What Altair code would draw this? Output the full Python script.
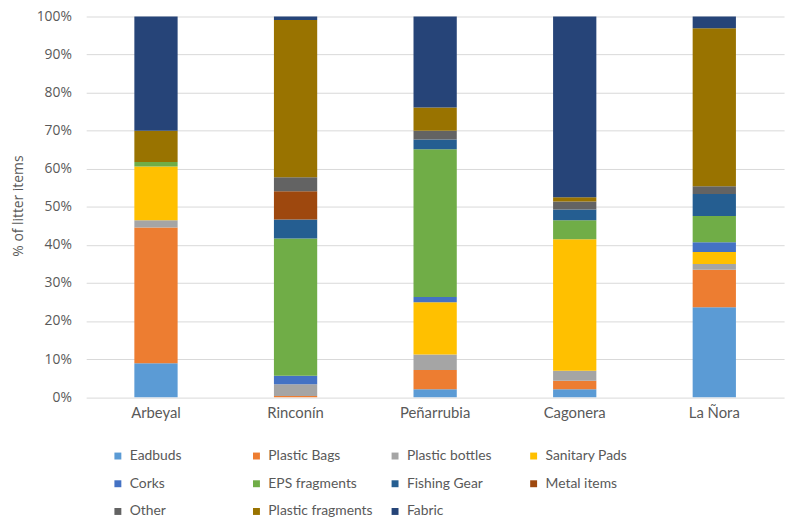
import altair as alt
import pandas as pd

categories = ["Arbeyal", "Rinconín", "Peñarrubia", "Cagonera", "La Ñora"]
series = ["Eadbuds", "Plastic Bags", "Plastic bottles", "Sanitary Pads", "Corks",
          "EPS fragments", "Fishing Gear", "Metal items", "Other",
          "Plastic fragments", "Fabric"]
colors = ["#5B9BD5", "#ED7D31", "#A5A5A5", "#FFC000", "#4472C4",
          "#70AD47", "#255E91", "#9E480E", "#636363", "#997300", "#264478"]

eadbuds = [8.9, 0.0, 2.1, 2.1, 23.6]
plastic_bags = [35.7, 0.3, 5.0, 2.2, 9.9]
plastic_bottles = [1.9, 3.1, 4.1, 2.6, 1.5]
sanitary_pads = [14.1, 0.0, 13.7, 34.6, 3.1]
corks = [0.0, 2.2, 1.4, 0.0, 2.6]
eps_fragments = [1.2, 36.1, 38.8, 5.0, 6.9]
fishing_gear = [0.0, 5.0, 2.6, 2.8, 5.8]
metal_items = [0.0, 7.4, 0.0, 0.0, 0.0]
other = [0.0, 3.7, 2.3, 2.1, 2.0]
plastic_fragments = [8.2, 41.3, 6.1, 1.1, 41.5]
fabric = [30.0, 0.9, 23.9, 47.5, 3.1]

values = [eadbuds, plastic_bags, plastic_bottles, sanitary_pads, corks,
          eps_fragments, fishing_gear, metal_items, other,
          plastic_fragments, fabric]

y_ticks = [0, 10, 20, 30, 40, 50, 60, 70, 80, 90, 100]

rows = []
for si, (name, vals) in enumerate(zip(series, values)):
    for ci, cat in enumerate(categories):
        if vals[ci] > 0:
            rows.append({"site": cat, "type": name, "pct": vals[ci], "idx": si})
df = pd.DataFrame(rows)

FONT = "Lato"
GREY = "#595959"

chart = alt.Chart(df).mark_bar().encode(
    x=alt.X("site:N", sort=categories, title=None,
            scale=alt.Scale(paddingInner=0.69, paddingOuter=0.345),
            axis=alt.Axis(labelAngle=0, ticks=False, domain=False, grid=False,
                          labelPadding=9, labelFontSize=15, labelColor=GREY,
                          labelFont=FONT)),
    y=alt.Y("pct:Q", stack="zero", title="% of litter items",
            scale=alt.Scale(domain=[0, 100], nice=False),
            axis=alt.Axis(values=y_ticks, labelExpr="datum.value + '%'",
                          ticks=False, domain=False, grid=True,
                          gridColor="#D9D9D9", labelPadding=15,
                          labelFontSize=14, labelColor=GREY, labelFont="Open Sans",
                          titleFontSize=14, titleColor=GREY, titleFontWeight="normal",
                          titleFont="Open Sans", titleX=-68, titleY=191,
                          titleAngle=270, titleAlign="center", titleBaseline="middle")),
    color=alt.Color("type:N", sort=series,
                    scale=alt.Scale(domain=series, range=colors),
                    legend=alt.Legend(title=None, orient="none", legendX=25, legendY=437,
                                      columns=4, direction="horizontal",
                                      gridAlign="all", columnPadding=15,
                                      rowPadding=14, symbolType="square", symbolSize=49,
                                      symbolStrokeWidth=0, labelFontSize=14,
                                      labelColor=GREY, labelFont=FONT, labelOffset=5,
                                      labelLimit=300)),
    order=alt.Order("idx:Q", sort="ascending"),
    tooltip=["site", "type", "pct"],
).properties(
    width=705, height=384.5,
    autosize=alt.AutoSizeParams(type="none"),
    padding={"left": 79, "top": 6, "right": 8, "bottom": 120},
).configure_view(stroke=None)

chart.save("out.html", embed_options={"renderer": "svg", "actions": False})
